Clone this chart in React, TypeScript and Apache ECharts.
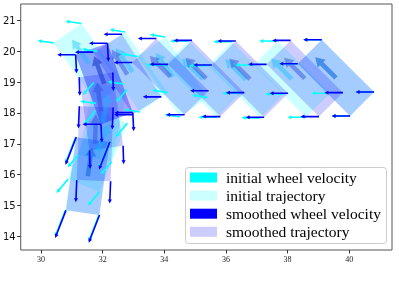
import React, { useEffect, useRef } from "react";
import * as echarts from "echarts";

// ---- axis ranges & ticks ----
const X_MIN = 29.34;
const X_MAX = 41.39;
const Y_MIN = 13.55;
const Y_MAX = 21.54;
const X_TICKS = [30, 32, 34, 36, 38, 40];
const Y_TICKS = [14, 15, 16, 17, 18, 19, 20, 21];

// ---- robot footprint (data units) ----
const HALF_LEN = 1.2;
const HALF_WID = 0.55;
const HEAD_LEN = 0.95;

// ---- initial trajectory poses: x, y, heading (deg), wheel velocity vx, vy ----
const initX = [39.57, 38.14, 36.65, 35.25, 34.27, 32.97, 31.55, 32.0, 31.84, 31.5];
const initY = [19.14, 19.1, 19.08, 19.1, 19.17, 19.33, 19.61, 17.7, 16.76, 15.95];
const initTh = [135, 135, 135, 135, 125, 125, 125, 78, 68, 82];
const initVx = [-0.6, -0.6, -0.6, -0.6, -0.5, -0.5, -0.52, -0.35, -0.38, -0.33];
const initVy = [0, 0, 0, 0, 0.08, 0.08, 0.07, -0.4, -0.45, -0.85];

// ---- smoothed trajectory poses ----
const smX = [39.57, 38.56, 36.78, 35.36, 34.2, 32.8, 32.05, 32.05, 31.95, 31.75, 31.52];
const smY = [19.14, 19.12, 19.1, 19.12, 19.18, 19.25, 18.95, 18.95, 18.05, 17.0, 15.95];
const smTh = [135, 135, 135, 135, 135, 122, 110, 110, 98, 88, 82];
const smVx = [-0.6, -0.6, -0.6, -0.6, -0.6, -0.6, -0.6, 0.03, 0.02, -0.03, -0.35];
const smVy = [0, 0, 0, 0, 0, 0, 0, -0.6, -0.6, -0.72, -0.9];

const LEGEND = [
  { label: "initial wheel velocity", color: "#00ffff" },
  { label: "initial trajectory", color: "#ccffff" },
  { label: "smoothed wheel velocity", color: "#0000ff" },
  { label: "smoothed trajectory", color: "#ccccff" },
];

function arrowPoly(p0: number[], p1: number[], w: number, hw: number, hl: number) {
  const dx = p1[0] - p0[0];
  const dy = p1[1] - p0[1];
  const len = Math.hypot(dx, dy) || 1;
  const ux = dx / len, uy = dy / len;
  const nx = -uy, ny = ux;
  const h = Math.min(hl, len * 0.8);
  const bx = p1[0] - ux * h, by = p1[1] - uy * h;
  return [
    [p0[0] + nx * w / 2, p0[1] + ny * w / 2],
    [bx + nx * w / 2, by + ny * w / 2],
    [bx + nx * hw / 2, by + ny * hw / 2],
    [p1[0], p1[1]],
    [bx - nx * hw / 2, by - ny * hw / 2],
    [bx - nx * w / 2, by - ny * w / 2],
    [p0[0] - nx * w / 2, p0[1] - ny * w / 2],
  ];
}

function makeRender(kind: string, color: string) {
  return (params: any, api: any) => {
    const x = api.value(0), y = api.value(1);
    const th = (api.value(2) * Math.PI) / 180;
    const vx = api.value(3), vy = api.value(4);
    const hx = Math.cos(th), hy = Math.sin(th);
    const nx = -hy, ny = hx;
    const corners = [
      [x + HALF_LEN * hx + HALF_WID * nx, y + HALF_LEN * hy + HALF_WID * ny],
      [x + HALF_LEN * hx - HALF_WID * nx, y + HALF_LEN * hy - HALF_WID * ny],
      [x - HALF_LEN * hx - HALF_WID * nx, y - HALF_LEN * hy - HALF_WID * ny],
      [x - HALF_LEN * hx + HALF_WID * nx, y - HALF_LEN * hy + HALF_WID * ny],
    ];
    if (kind === "rect") {
      return {
        type: "polygon",
        shape: { points: corners.map((c) => api.coord(c)) },
        style: { fill: color },
      };
    }
    if (kind === "head") {
      const p0 = api.coord([x, y]);
      const p1 = api.coord([x + HEAD_LEN * hx, y + HEAD_LEN * hy]);
      return {
        type: "polygon",
        shape: { points: arrowPoly(p0, p1, 4.5, 11, 9) },
        style: { fill: color },
      };
    }
    const children: any[] = [];
    corners.forEach((c) => {
      const p0 = api.coord(c);
      const p1 = api.coord([c[0] + vx, c[1] + vy]);
      children.push({
        type: "polygon",
        shape: { points: arrowPoly(p0, p1, 1.6, 4, 4) },
        style: { fill: color },
      });
    });
    return { type: "group", children };
  };
}

function toData(xs: number[], ys: number[], th: number[], vx: number[], vy: number[]) {
  return xs.map((v, i) => [v, ys[i], th[i], vx[i], vy[i]]);
}

export default function App() {
  const ref = useRef<HTMLDivElement>(null);
  useEffect(() => {
    if (!ref.current) return;
    const chart = echarts.init(ref.current, null, { renderer: "svg" });
    const initData = toData(initX, initY, initTh, initVx, initVy);
    const smData = toData(smX, smY, smTh, smVx, smVy);
    const mk = (name: string, data: any[], kind: string, color: string, z: number) => ({
      type: "custom",
      name,
      coordinateSystem: "cartesian2d",
      data,
      encode: { x: 0, y: 1 },
      renderItem: makeRender(kind, color),
      clip: true,
      z,
      silent: true,
    });
    const legendGraphics: any[] = [
      {
        type: "rect",
        shape: { x: 185.5, y: 167.5, width: 201, height: 76, r: 3 },
        style: { fill: "rgba(255,255,255,0.85)", stroke: "#cccccc", lineWidth: 1 },
        z: 100,
      },
    ];
    LEGEND.forEach((e, i) => {
      const cy = 177.5 + i * 18.1;
      legendGraphics.push({
        type: "rect",
        shape: { x: 190, y: cy - 5, width: 27, height: 10 },
        style: { fill: e.color },
        z: 101,
      });
      legendGraphics.push({
        type: "text",
        x: 226,
        y: cy,
        style: {
          text: e.label,
          fill: "#000",
          font: "15.5px 'Liberation Serif'",
          verticalAlign: "middle",
          align: "left",
        },
        z: 101,
      });
    });
    chart.setOption({
      animation: false,
      grid: {
        left: 20,
        top: 4,
        width: 372,
        height: 246,
        show: true,
        borderColor: "#555",
        borderWidth: 1,
        backgroundColor: "transparent",
      },
      xAxis: {
        type: "value",
        min: X_MIN,
        max: X_MAX,
        axisLine: { show: false },
        splitLine: { show: false },
        axisTick: { show: true, length: 3.5, lineStyle: { color: "#333" }, customValues: X_TICKS },
        axisLabel: {
          customValues: X_TICKS,
          fontFamily: "Liberation Serif",
          fontSize: 8,
          color: "#222",
          margin: 5,
        },
      },
      yAxis: {
        type: "value",
        min: Y_MIN,
        max: Y_MAX,
        axisLine: { show: false },
        splitLine: { show: false },
        axisTick: { show: true, length: 3.5, lineStyle: { color: "#333" }, customValues: Y_TICKS },
        axisLabel: {
          customValues: Y_TICKS,
          fontFamily: "DejaVu Sans",
          fontSize: 10,
          color: "#111",
          margin: 5,
        },
      },
      series: [
        mk("initial trajectory", initData, "rect", "rgba(0,255,255,0.2)", 1),
        mk("smoothed trajectory", smData, "rect", "rgba(0,0,255,0.2)", 2),
        mk("initial heading", initData, "head", "rgba(0,190,255,0.4)", 3),
        mk("smoothed heading", smData, "head", "rgba(40,70,210,0.45)", 4),
        mk("initial wheel velocity", initData, "wheel", "#00ffff", 5),
        mk("smoothed wheel velocity", smData, "wheel", "#0000ff", 6),
      ],
      graphic: legendGraphics,
    });
    return () => chart.dispose();
  }, []);
  return (
    <div
      ref={ref}
      style={{ position: "fixed", left: 0, top: 0, width: 399, height: 282 }}
    />
  );
}
